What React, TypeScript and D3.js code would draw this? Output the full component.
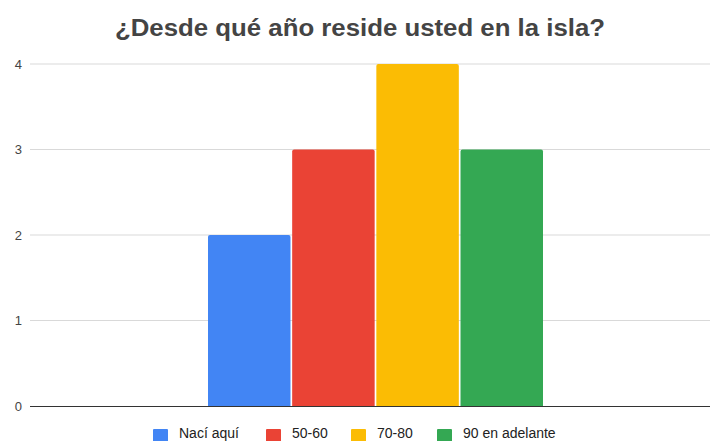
import React from "react";
import * as d3 from "d3";

const title = "¿Desde qué año reside usted en la isla?";
const seriesNames = ["Nací aquí", "50-60", "70-80", "90 en adelante"];
const seriesValues = [2, 3, 4, 3];
const seriesColors = ["#4285f4", "#ea4335", "#fbbc04", "#34a853"];
const yTicks = [0, 1, 2, 3, 4];

const W = 710;
const H = 441;
const plotLeft = 30;
const plotRight = 710;
const plotTop = 64;
const plotBottom = 406;

export default function App() {
  const y = d3.scaleLinear().domain([0, 4]).range([plotBottom, plotTop]);
  const x = d3
    .scaleBand<string>()
    .domain(seriesNames)
    .range([208, 543])
    .paddingInner(0.02)
    .paddingOuter(0);

  const legendX = [153, 266, 351, 437];

  return (
    <svg
      width={W}
      height={H}
      style={{ position: "absolute", left: 0, top: 0, background: "#fff" }}
      fontFamily="'Liberation Sans', Arial, sans-serif"
    >
      <rect width={W} height={H} fill="#fff" />
      <text
        x={115}
        y={36}
        fontSize={23}
        fontWeight="bold"
        fill="#444"
        textLength={490}
        lengthAdjust="spacingAndGlyphs"
      >
        {title}
      </text>
      {yTicks.map((t) => (
        <g key={t}>
          {t !== 0 && (
            <line
              x1={plotLeft}
              x2={plotRight}
              y1={y(t)}
              y2={y(t)}
              stroke="#d9d9d9"
              strokeWidth={1}
            />
          )}
          <text
            x={22}
            y={y(t)}
            dy="0.36em"
            textAnchor="end"
            fontSize={13}
            fill="#444"
          >
            {t}
          </text>
        </g>
      ))}
      {seriesNames.map((s, i) => (
        <path
          key={s}
          d={(() => {
            const x0 = x(s)!;
            const w = x.bandwidth();
            const yt = y(seriesValues[i]);
            const r = 2;
            return `M${x0},${plotBottom}V${yt + r}Q${x0},${yt} ${x0 + r},${yt}H${x0 + w - r}Q${x0 + w},${yt} ${x0 + w},${yt + r}V${plotBottom}Z`;
          })()}
          fill={seriesColors[i]}
        />
      ))}
      <line
        x1={plotLeft}
        x2={plotRight}
        y1={plotBottom + 0.5}
        y2={plotBottom + 0.5}
        stroke="#333"
        strokeWidth={1}
      />
      {seriesNames.map((s, i) => (
        <g key={s} transform={`translate(${legendX[i]},0)`}>
          <rect x={0} y={429} width={15} height={15} rx={1} fill={seriesColors[i]} />
          <text x={26} y={438} fontSize={14} fill="#222">
            {s}
          </text>
        </g>
      ))}
    </svg>
  );
}
